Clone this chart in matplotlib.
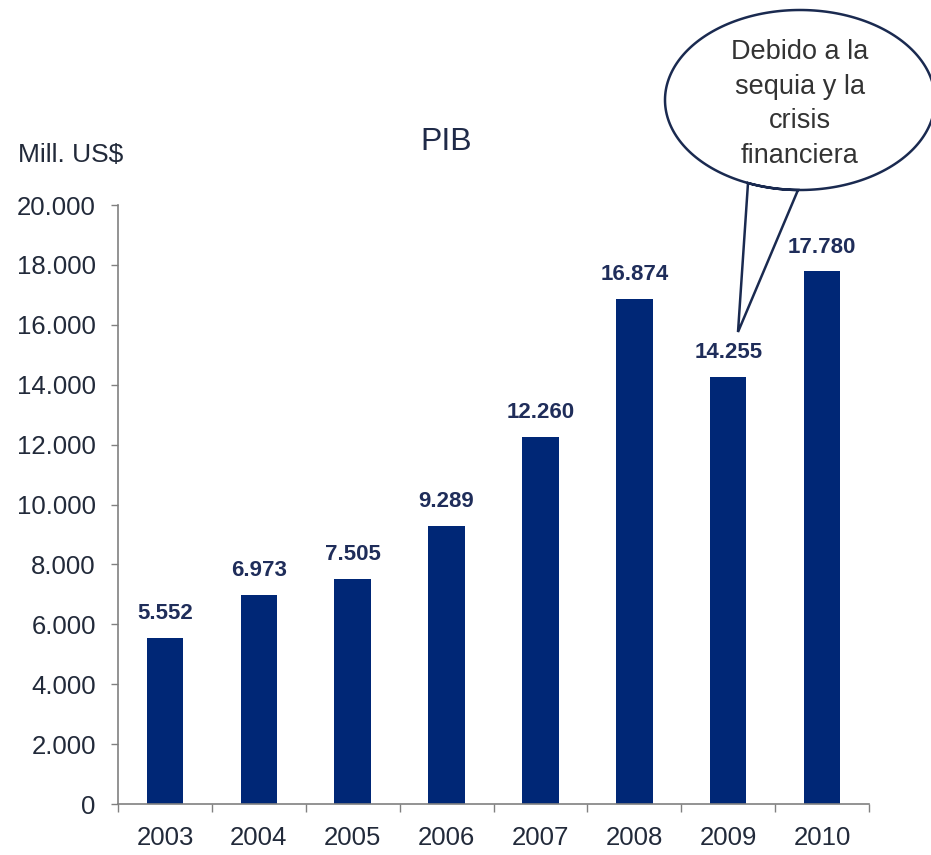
import matplotlib
matplotlib.use('Agg')
import matplotlib.pyplot as plt
import numpy as np
from matplotlib.path import Path
from matplotlib.patches import PathPatch

years = ['2003', '2004', '2005', '2006', '2007', '2008', '2009', '2010']
pib = [5552, 6973, 7505, 9289, 12260, 16874, 14255, 17780]
y_ticks = [0, 2000, 4000, 6000, 8000, 10000, 12000, 14000, 16000, 18000, 20000]
nota = 'Debido a la\nsequia y la\ncrisis\nfinanciera'

W, H = 931, 855
plt.rcParams['font.family'] = ['Liberation Sans', 'DejaVu Sans']

def px(x, y):
  # pixel position -> figure fraction
  return (x / W, 1 - y / H)

def miles(v):
  return f'{v:,.0f}'.replace(',', '.')

fig = plt.figure(figsize=(W / 100, H / 100), dpi=100)
ax = fig.add_axes([118 / W, 1 - 804 / H, (869 - 118) / W, (804 - 205) / H])

x = np.arange(len(years))
ax.bar(x, pib, width=0.39, color='#002776', zorder=2)

# etiquetas sobre las barras
for xi, v in zip(x, pib):
  ax.annotate(miles(v), (xi, v), xytext=(0, 10), textcoords='offset points',
              ha='center', va='bottom', fontsize=16, fontweight='bold', color='#1f2d5a')

ax.set_xlim(-0.5, len(years) - 0.5)
ax.set_ylim(0, 20000)
ax.set_yticks(y_ticks)
ax.set_yticklabels([miles(v) for v in y_ticks])
ax.set_xticks(x)
ax.set_xticklabels(years)
ax.set_xticks(np.arange(-0.5, len(years)), minor=True)

for s in ['top', 'right']:
  ax.spines[s].set_visible(False)
for s in ['left', 'bottom']:
  ax.spines[s].set_color('#808080')
  ax.spines[s].set_linewidth(1.2)

ax.tick_params(axis='y', length=5, width=1, color='#808080', pad=11,
               labelsize=18.5, labelcolor='#222a3a')
ax.tick_params(axis='x', which='major', length=0, pad=16,
               labelsize=18.5, labelcolor='#222a3a')
ax.tick_params(axis='x', which='minor', length=6, width=1, color='#808080')

fig.text(*px(446, 142), 'PIB', ha='center', va='center', fontsize=23, color='#1f2a48')
fig.text(*px(18, 155), 'Mill. US$', ha='left', va='center', fontsize=19, color='#222a3a')

# globo de dialogo
cx, cy, a, b = 800, 100, 135, 90
tip = (738, 332)

def on_ellipse(xp):
  # parametro del punto inferior de la elipse con abscisa xp
  c = (xp - cx) / a
  return np.arctan2(np.sqrt(1 - c ** 2), c)

t_left = on_ellipse(748)
t_right = on_ellipse(798)
ang = np.linspace(t_right, t_left + 2 * np.pi, 240)
pts = [px(cx + a * np.cos(t), cy + b * np.sin(t)) for t in ang]
pts.append(px(*tip))
pts.append(pts[0])
codes = [Path.MOVETO] + [Path.LINETO] * (len(pts) - 2) + [Path.CLOSEPOLY]
balloon = PathPatch(Path(pts, codes), transform=fig.transFigure, facecolor='white',
                    edgecolor='#1a2a50', linewidth=1.8, zorder=5)
fig.add_artist(balloon)
fig.text(*px(800, 104), nota, ha='center', va='center', fontsize=19.5,
         color='#333333', linespacing=1.42, zorder=6)

fig.savefig('out.png', dpi=100)
